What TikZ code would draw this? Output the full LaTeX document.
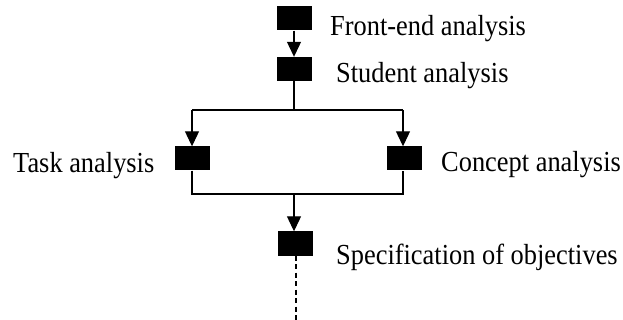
\documentclass[tikz,border=0pt]{standalone}
\usepackage{fontspec}
\setmainfont{Liberation Serif}
\usetikzlibrary{arrows.meta}
\begin{document}
\begin{tikzpicture}[x=1pt,y=-1pt,
  blk/.style={draw=none,fill=black,minimum width=35pt,minimum height=24pt,inner sep=0pt},
  lbl/.style={anchor=base west,inner sep=0pt,font=\fontsize{26.4}{30}\selectfont,yscale=1.1},
  conn/.style={line width=1.1pt},
  arr/.style={conn,-{Triangle[length=15pt,width=14pt]}}]
\useasboundingbox (0,0) rectangle (623,320);
% blocks
\node[blk] (b1) at (294,18.5) {};
\node[blk] (b2) at (294,69) {};
\node[blk] (bl) at (192,158.5) {};
\node[blk] (br) at (404,158.5) {};
\node[blk] (b4) at (295.5,243.5) {};
% labels
\node[lbl] (t1) at (330,36) {Front-end analysis};
\node[lbl] (t2) at (336,83) {Student analysis};
\node[lbl] (t3) at (13,173) {Task analysis};
\node[lbl] (t4) at (441,172) {Concept analysis};
\node[lbl] (t5) at (336,264) {Specification of objectives};
% junction points
\coordinate (jt) at (294,110);
\coordinate (jl) at (192,110);
\coordinate (jr) at (403,110);
\coordinate (kl) at (192,194);
\coordinate (kr) at (403,194);
\coordinate (kc) at (294,194);
\coordinate (end) at (296,320);
% connectors
\draw[arr] (b1.south) -- (b2.north);
\draw[conn] (b2.south) -- (jt);
\draw[conn] (jl) -- (jr);
\draw[arr] (jl) -- (bl.north);
\draw[arr] (jr) -- (jr |- br.north);
\draw[conn] (bl.south) -- (kl) -- (kr) -- (kr |- br.south);
\draw[arr] (kc) -- (kc |- b4.north);
\draw[conn,dash pattern=on 5pt off 3.5pt] (end |- b4.south) -- (end);
\end{tikzpicture}
\end{document}
